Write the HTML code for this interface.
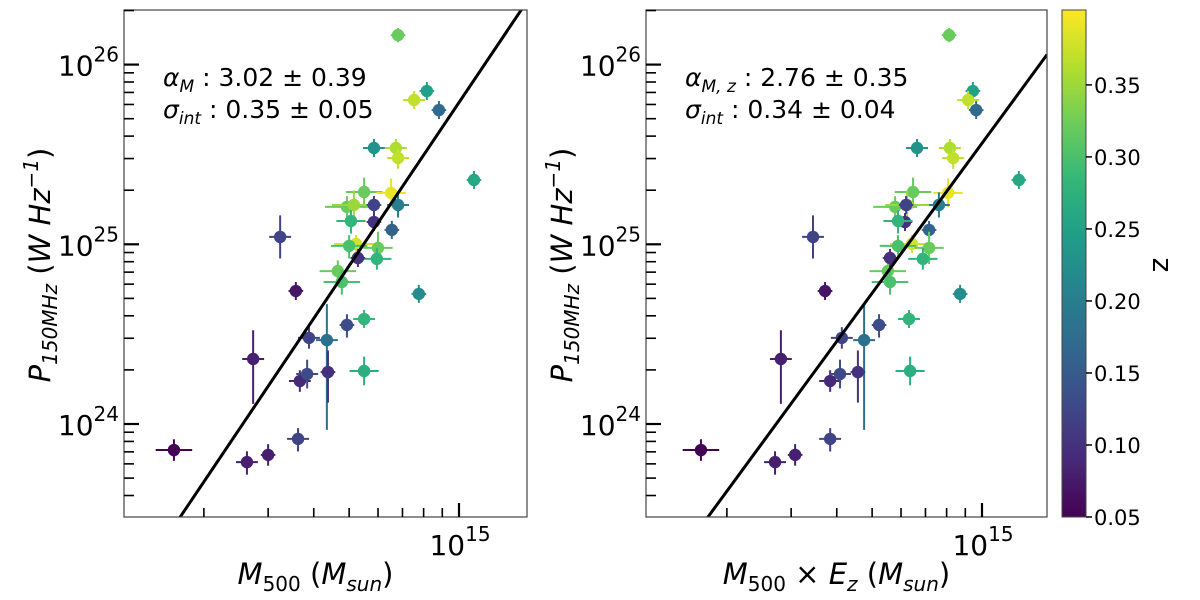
<!DOCTYPE html>
<html><head><meta charset="utf-8">
<style>
html,body{margin:0;padding:0;background:#fff;}
svg{display:block;font-family:"DejaVu Sans","Liberation Sans",sans-serif;}
</style></head>
<body>
<svg id="chart" width="1200" height="600" viewBox="0 0 1200 600" xmlns="http://www.w3.org/2000/svg">
<defs>
<linearGradient id="viridis" x1="0" y1="1" x2="0" y2="0"></linearGradient>
</defs>
<g id="left"></g>
<g id="right"></g>
<g id="cbar"></g>
</svg>
<script>
// log10 of M500 (left panel), log10 of M500*Ez (right panel), log10 of P150MHz, redshift
const logMass = [14.219,14.419,14.477,14.559,14.436,14.510,14.553,14.564,14.584,14.589,14.638,14.641,14.693,14.668,14.679,14.833,14.912,14.877,14.945,14.767,14.827,14.833,15.041,14.740,14.814,14.833,14.693,14.712,14.767,14.767,14.704,14.816,14.718,14.699,14.778,14.775,14.723,14.890,14.740,14.740];
const logMassEz = [14.230,14.433,14.488,14.584,14.449,14.537,14.570,14.584,14.611,14.616,14.677,14.660,14.718,14.742,14.748,14.910,14.975,14.962,14.984,14.822,14.912,14.921,15.101,14.811,14.907,14.882,14.762,14.795,14.792,14.789,14.770,14.855,14.808,14.770,14.855,14.838,14.748,14.940,14.800,14.803];
const logPower = [23.855,23.788,23.828,23.917,24.362,25.041,24.740,24.239,24.278,24.479,24.467,24.289,24.551,24.851,24.790,26.164,25.853,25.803,25.747,25.536,25.536,25.480,25.358,25.291,25.286,25.219,25.208,25.219,25.219,25.124,25.130,25.080,25.002,24.991,24.980,24.919,24.924,24.724,24.584,24.295];
const redshift = [0.05,0.08,0.08,0.12,0.08,0.12,0.07,0.09,0.13,0.12,0.18,0.10,0.13,0.32,0.30,0.32,0.25,0.37,0.17,0.23,0.36,0.37,0.26,0.32,0.39,0.20,0.32,0.35,0.12,0.10,0.28,0.16,0.38,0.30,0.32,0.28,0.10,0.22,0.28,0.27];
const xErr = [0.05,0.03,0.02,0.03,0.03,0.03,0.02,0.03,0.03,0.03,0.03,0.02,0.02,0.05,0.05,0.02,0.02,0.03,0.02,0.03,0.03,0.03,0.02,0.05,0.04,0.03,0.06,0.06,0.02,0.02,0.04,0.02,0.06,0.05,0.04,0.04,0.02,0.02,0.03,0.04];
const yErrUp = [0.06,0.06,0.06,0.06,0.16,0.12,0.05,0.06,0.08,0.06,0.20,0.12,0.06,0.06,0.07,0.04,0.05,0.05,0.05,0.05,0.05,0.05,0.05,0.08,0.08,0.07,0.06,0.08,0.05,0.05,0.06,0.05,0.05,0.06,0.09,0.06,0.05,0.05,0.05,0.08];
const yErrDown = [0.06,0.07,0.06,0.07,0.25,0.12,0.05,0.06,0.08,0.06,0.50,0.17,0.07,0.07,0.07,0.04,0.05,0.05,0.05,0.05,0.05,0.06,0.05,0.09,0.08,0.07,0.06,0.09,0.05,0.05,0.07,0.05,0.05,0.07,0.09,0.06,0.05,0.05,0.05,0.08];
const fitLeft = {slope:3.02, m0:14.236, p0:23.482};
const fitRight = {slope:2.77, m0:14.249, p0:23.482};
const yTicks = [24,25,26];
const xTicks = [15];
const cbarTicks = [0.05,0.10,0.15,0.20,0.25,0.30,0.35];
const zMin = 0.05, zMax = 0.402;

const NS = "http://www.w3.org/2000/svg";
const viridisStops = [[68,1,84],[72,40,120],[62,74,137],[49,104,142],[38,130,142],[31,158,137],[53,183,121],[109,205,89],[180,222,44],[253,231,37]];
function viridis(t){t=Math.max(0,Math.min(1,t));const n=viridisStops.length-1;const i=Math.min(n-1,Math.floor(t*n));const f=t*n-i;const a=viridisStops[i],b=viridisStops[i+1];return `rgb(${Math.round(a[0]+(b[0]-a[0])*f)},${Math.round(a[1]+(b[1]-a[1])*f)},${Math.round(a[2]+(b[2]-a[2])*f)})`;}
function el(tag,attrs,parent){const e=document.createElementNS(NS,tag);for(const k in attrs)e.setAttribute(k,attrs[k]);if(parent)parent.appendChild(e);return e;}

const grad=document.getElementById('viridis');
viridisStops.forEach((s,i)=>{el('stop',{offset:(i/(viridisStops.length-1)),'stop-color':`rgb(${s[0]},${s[1]},${s[2]})`},grad);});

const Y0=10,Y1=517;
const yScale=v=>244.3-(v-25)*179.7;
const pLogMin=25-(Y1-244.3)/179.7, pLogMax=25+(244.3-Y0)/179.7;

function panel(g,X0,X1,x15,xs,fit,line1,line2,xlabel){
  const xScale=v=>x15+(v-15)*365;
  const mMin=15+(X0-x15)/365, mMax=15+(X1-x15)/365;
  const cid='clip'+X0;
  const cp=el('clipPath',{id:cid},g);el('rect',{x:X0,y:Y0,width:X1-X0,height:Y1-Y0},cp);
  const pts=el('g',{'clip-path':`url(#${cid})`},g);
  
  
  for(let i=0;i<xs.length;i++){
    const c=viridis((redshift[i]-zMin)/(zMax-zMin));
    const cx=xScale(xs[i]), cy=yScale(logPower[i]);
    const pg=el('g',{},pts);
    
    
    el('line',{x1:xScale(xs[i]-xErr[i]),x2:xScale(xs[i]+xErr[i]),y1:cy,y2:cy,stroke:c,'stroke-width':2},pg);
    el('line',{x1:cx,x2:cx,y1:yScale(logPower[i]+yErrUp[i]),y2:yScale(logPower[i]-yErrDown[i]),stroke:c,'stroke-width':2},pg);
    el('circle',{cx:cx,cy:cy,r:6.2,fill:c},pg);
  }
  const fl=el('line',{x1:xScale(mMin),y1:yScale(fit.p0+fit.slope*(mMin-fit.m0)),x2:xScale(mMax),y2:yScale(fit.p0+fit.slope*(mMax-fit.m0)),stroke:'#000','stroke-width':3},pts);
  
  
  const fr=el('rect',{x:X0,y:Y0,width:X1-X0,height:Y1-Y0,fill:'none',stroke:'#444','stroke-width':1.2},g);
  
  
  for(let d=23;d<=26;d++){for(let k=1;k<10;k++){const v=d+Math.log10(k);if(v<pLogMin||v>pLogMax)continue;const y=yScale(v);
    el('line',{x1:X0,x2:X0+(k===1?15:10),y1:y,y2:y,stroke:'#000','stroke-width':k===1?2.2:1.6},g);}}
  yTicks.forEach(t=>{const tx=el('text',{x:X0-5,y:yScale(t)+11,'text-anchor':'end','font-size':28},g);
    
    tx.innerHTML=`10<tspan dy="-14" font-size="20">${t}</tspan>`;});
  for(let d=14;d<=15;d++){for(let k=1;k<10;k++){const v=d+Math.log10(k);if(v<mMin||v>mMax)continue;const x=xScale(v);
    el('line',{x1:x,x2:x,y1:Y1,y2:Y1-(k===1?14:9),stroke:'#000','stroke-width':k===1?2.2:1.6},g);}}
  xTicks.forEach(t=>{const tx=el('text',{x:xScale(t)+1,y:Y1+38,'text-anchor':'middle','font-size':28},g);
    
    tx.innerHTML=`10<tspan dy="-14" font-size="20">${t}</tspan>`;});
  const a1=el('text',{x:X0+39,y:86,'font-size':25},g);
  
  a1.innerHTML=line1;
  const a2=el('text',{x:X0+39,y:118,'font-size':25},g);
  
  a2.innerHTML=line2;
  const xl=el('text',{x:(X0+X1)/2-10,y:584,'text-anchor':'middle','font-size':29},g);
  
  xl.innerHTML=xlabel;
  const yl=el('text',{x:0,y:0,'text-anchor':'middle','font-size':29,transform:`translate(${X0-74},265) rotate(-90)`},g);
  
  yl.innerHTML='<tspan font-style="italic">P</tspan><tspan dy="7" font-size="20" font-style="italic">150MHz</tspan><tspan dy="-7"> (</tspan><tspan font-style="italic">W Hz</tspan><tspan dy="-12" font-size="20" font-style="italic">−1</tspan><tspan dy="12">)</tspan>';
}
panel(document.getElementById('left'),124,527,459,logMass,fitLeft,
 '<tspan font-style="italic">α</tspan><tspan dy="6" font-size="17" font-style="italic">M</tspan><tspan dy="-6"> : 3.02 ± 0.39</tspan>',
 '<tspan font-style="italic">σ</tspan><tspan dy="6" font-size="17" font-style="italic">int</tspan><tspan dy="-6"> : 0.35 ± 0.05</tspan>',
 '<tspan font-style="italic">M</tspan><tspan dy="7" font-size="20">500</tspan><tspan dy="-7"> (</tspan><tspan font-style="italic">M</tspan><tspan dy="7" font-size="20" font-style="italic">sun</tspan><tspan dy="-7">)</tspan>');
panel(document.getElementById('right'),646,1047,982,logMassEz,fitRight,
 '<tspan font-style="italic">α</tspan><tspan dy="6" font-size="17" font-style="italic">M, z</tspan><tspan dy="-6"> : 2.76 ± 0.35</tspan>',
 '<tspan font-style="italic">σ</tspan><tspan dy="6" font-size="17" font-style="italic">int</tspan><tspan dy="-6"> : 0.34 ± 0.04</tspan>',
 '<tspan font-style="italic">M</tspan><tspan dy="7" font-size="20">500</tspan><tspan dy="-7"> × </tspan><tspan font-style="italic">E</tspan><tspan dy="7" font-size="20" font-style="italic">z</tspan><tspan dy="-7"> (</tspan><tspan font-style="italic">M</tspan><tspan dy="7" font-size="20" font-style="italic">sun</tspan><tspan dy="-7">)</tspan>');

const cb=document.getElementById('cbar');
const CX0=1062,CX1=1086;
const cbr=el('rect',{x:CX0,y:Y0,width:CX1-CX0,height:Y1-Y0,fill:'url(#viridis)',stroke:'#444','stroke-width':1},cb);

const zScale=z=>Y1-(z-zMin)/(zMax-zMin)*(Y1-Y0);
cbarTicks.forEach(t=>{const y=zScale(t);
  el('line',{x1:CX1,x2:CX1+6,y1:y,y2:y,stroke:'#000','stroke-width':1.5},cb);
  const tx=el('text',{x:CX1+8,y:y+8,'font-size':21},cb);
  
  tx.textContent=t.toFixed(2);});
const zl=el('text',{x:0,y:0,'text-anchor':'middle','font-size':28,transform:'translate(1168,265) rotate(-90)'},cb);

zl.textContent='z';
</script>
</body></html>
